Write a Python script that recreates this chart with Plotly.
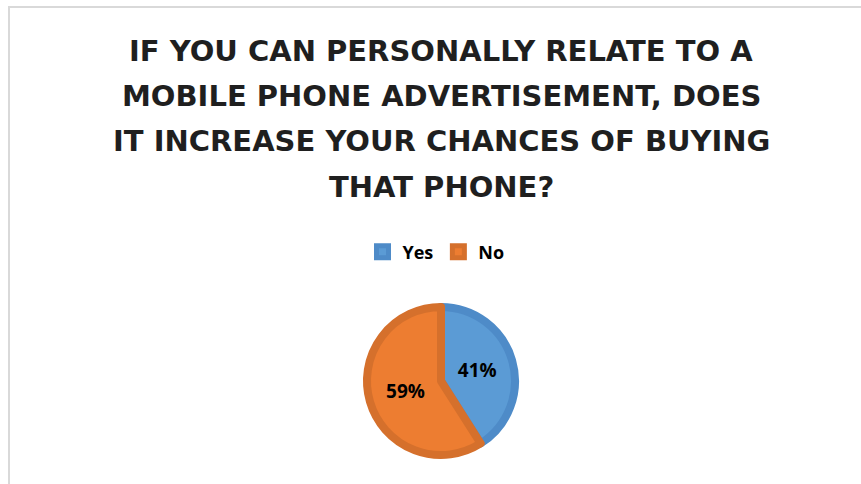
import plotly.graph_objects as go

# Survey answers and their shares (percent)
answers = ["Yes", "No"]
shares = [41, 59]

title_lines = [
    "IF YOU CAN PERSONALLY RELATE TO A",
    "MOBILE PHONE ADVERTISEMENT, DOES",
    "IT INCREASE YOUR CHANCES OF BUYING",
    "THAT PHONE?",
]

fill_colors = ["#5B9BD5", "#ED7D31"]
edge_colors = ["#4E8BC8", "#D5702C"]

W, H = 861, 484


def px_x(v):
    return v / W


def px_y(v):
    return 1 - v / H


cx, cy, r = 441, 381, 74

fig = go.Figure(
    go.Pie(
        labels=answers,
        values=shares,
        sort=False,
        direction="clockwise",
        rotation=0,
        marker=dict(colors=fill_colors, line=dict(color=edge_colors, width=8)),
        textinfo="percent",
        texttemplate="%{percent:.0%}",
        textposition="inside",
        insidetextorientation="horizontal",
        insidetextfont=dict(family="Open Sans", size=19, color="#000000", weight="bold"),
        domain=dict(x=[px_x(cx - r), px_x(cx + r)], y=[px_y(cy + r), px_y(cy - r)]),
        hoverinfo="label+percent",
    )
)

# Multi-line chart title, one annotation per line for Excel-like line spacing
line_centers = [51, 96, 141, 187]
for text, yc in zip(title_lines, line_centers):
    fig.add_annotation(
        text=text,
        x=px_x(441),
        y=px_y(yc),
        xref="paper",
        yref="paper",
        xanchor="center",
        yanchor="middle",
        showarrow=False,
        font=dict(family="DejaVu Sans", size=29, color="#1F1F1F", weight="bold"),
    )

# Chart-area frame (top and left edges visible, rest runs off the page)
fig.add_shape(
    type="rect",
    xref="paper",
    yref="paper",
    x0=px_x(9),
    x1=px_x(W + 20),
    y0=px_y(H + 20),
    y1=px_y(7),
    line=dict(color="#D9D9D9", width=2),
    fillcolor="rgba(0,0,0,0)",
)

fig.update_layout(
    width=W,
    height=H,
    margin=dict(l=0, r=0, t=0, b=0),
    paper_bgcolor="white",
    plot_bgcolor="white",
    showlegend=True,
    legend=dict(
        orientation="h",
        x=px_x(436),
        xanchor="center",
        y=px_y(252),
        yanchor="middle",
        font=dict(family="Open Sans", size=18, color="#000000", weight="bold"),
        itemwidth=30,
        traceorder="normal",
    ),
)

fig.write_html("out.html")
